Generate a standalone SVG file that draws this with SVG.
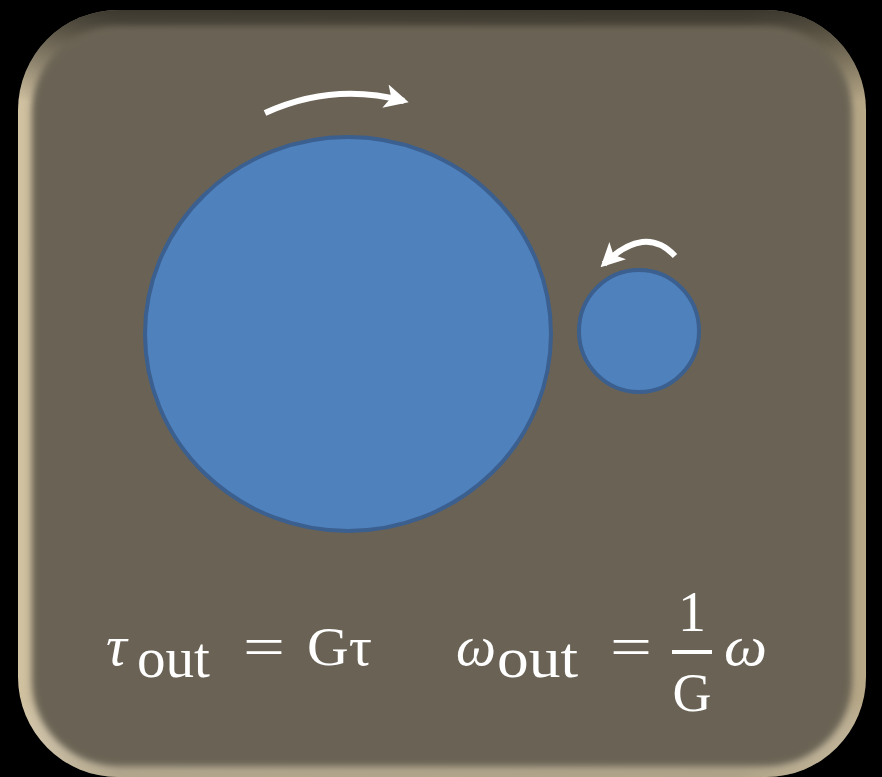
<svg xmlns="http://www.w3.org/2000/svg" width="882" height="777" viewBox="0 0 882 777">
<defs>
<linearGradient id="bevH" x1="0" y1="0" x2="1" y2="0">
<stop offset="0" stop-color="#d2c3a2"/>
<stop offset="0.12" stop-color="#8c8370"/>
<stop offset="0.85" stop-color="#857c68"/>
<stop offset="1" stop-color="#b8a988"/>
</linearGradient>
<linearGradient id="bevV" x1="0" y1="0" x2="0" y2="1">
<stop offset="0" stop-color="#2e2b23" stop-opacity="0.85"/>
<stop offset="0.12" stop-color="#2e2b23" stop-opacity="0"/>
<stop offset="0.9" stop-color="#ffffff" stop-opacity="0"/>
<stop offset="1" stop-color="#d8c9a8" stop-opacity="0.5"/>
</linearGradient>
<filter id="soft" x="-5%" y="-5%" width="110%" height="110%">
<feGaussianBlur stdDeviation="3"/>
</filter>
<marker id="ah" viewBox="0 0 10 10" refX="8" refY="5" markerWidth="4" markerHeight="4" orient="auto" markerUnits="strokeWidth">
<path d="M0,0 L10,5 L0,10 L2.5,5 Z" fill="#ffffff"/>
</marker>
<style>
.gear{fill:#4f81bd;stroke:#3b5f8e;stroke-width:4}
.arr{fill:none;stroke:#ffffff;stroke-width:6;marker-end:url(#ah)}
.m{font-family:"Liberation Serif","DejaVu Serif",serif;fill:#ffffff}
.it{font-style:italic}
</style>
</defs>
<rect x="0" y="0" width="882" height="777" fill="#000000"/>
<g id="frame">
<rect x="18" y="10" width="848" height="767" rx="100" fill="url(#bevH)"/>
<rect x="18" y="10" width="848" height="767" rx="100" fill="url(#bevV)"/>
<rect x="32" y="26" width="820" height="740" rx="86" fill="#6a6454" filter="url(#soft)"/>
</g>
<g id="gear-large">
<ellipse class="gear" cx="348" cy="334" rx="203" ry="197"/>
</g>
<g id="gear-small">
<ellipse class="gear" cx="639" cy="331" rx="60" ry="61"/>
</g>
<g id="connectors">
<path class="arr" d="M265,113 Q333,82 404,101"/>
<path class="arr" d="M675,256 Q645,224 604,264"/>
</g>
<g id="eq-torque">
<text class="m it" x="106" y="665" font-size="58">τ</text>
<text class="m" x="137" y="677" font-size="57" textLength="73" lengthAdjust="spacingAndGlyphs">out</text>
<text class="m" x="243" y="666" font-size="56" textLength="42" lengthAdjust="spacingAndGlyphs">=</text>
<text class="m" x="307" y="665" font-size="54" textLength="65" lengthAdjust="spacingAndGlyphs">Gτ</text>
</g>
<g id="eq-speed">
<text class="m it" x="456" y="665" font-size="58" textLength="40" lengthAdjust="spacingAndGlyphs">ω</text>
<text class="m" x="497" y="677" font-size="57" textLength="81" lengthAdjust="spacingAndGlyphs">out</text>
<text class="m" x="610" y="666" font-size="56" textLength="42" lengthAdjust="spacingAndGlyphs">=</text>
<text class="m" x="692" y="631" font-size="56" text-anchor="middle">1</text>
<rect x="672" y="650" width="40" height="4" fill="#ffffff"/>
<text class="m" x="692" y="711" font-size="54" text-anchor="middle">G</text>
<text class="m it" x="724" y="665" font-size="58" textLength="43" lengthAdjust="spacingAndGlyphs">ω</text>
</g>
</svg>
